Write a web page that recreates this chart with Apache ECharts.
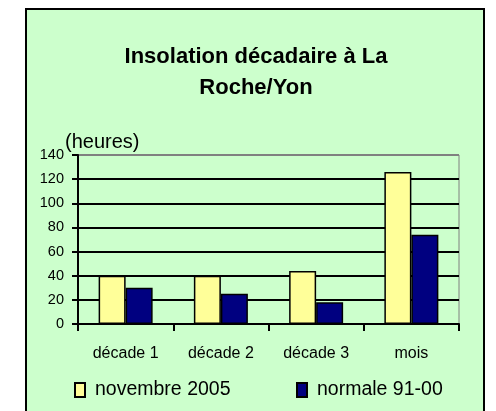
<!DOCTYPE html>
<html><head><meta charset="utf-8">
<script src="https://cdn.jsdelivr.net/npm/echarts@6/dist/echarts.min.js"></script>
<style>html,body{margin:0;padding:0;background:#fff}#c{width:496px;height:411px}</style>
</head><body><div id="c"></div>
<script>
const titleLines = ['Insolation décadaire à La', 'Roche/Yon'];
const unitLabel = '(heures)';
const categories = ['décade 1', 'décade 2', 'décade 3', 'mois'];
const seriesNames = ['novembre 2005', 'normale 91-00'];
const nov2005 = [40, 40, 44, 126];
const normale = [30, 25, 18, 74];
const yMin = 0, yMax = 140, yStep = 20;

const FONT = '"Liberation Sans", Arial, sans-serif';
const chart = echarts.init(document.getElementById('c'), null, {renderer: 'canvas'});
const splitColors = [];
for (let v = yMin; v <= yMax; v += yStep) splitColors.push(v === yMax ? '#808080' : '#000000');

chart.setOption({
  backgroundColor: '#ffffff',
  animation: false,
  graphic: [
    {type: 'rect', z: -100, silent: true,
     shape: {x: 26, y: 9, width: 458, height: 420},
     style: {fill: '#CCFFCC', stroke: '#000000', lineWidth: 2}},
    {type: 'text', z: 10, x: 256, y: 57, silent: true,
     style: {text: titleLines[0], font: 'bold 22px ' + FONT, fill: '#000', textAlign: 'center', textVerticalAlign: 'middle'}},
    {type: 'text', z: 10, x: 256, y: 88, silent: true,
     style: {text: titleLines[1], font: 'bold 22px ' + FONT, fill: '#000', textAlign: 'center', textVerticalAlign: 'middle'}},
    {type: 'text', z: 10, x: 65, y: 142, silent: true,
     style: {text: unitLabel, font: '20px ' + FONT, fill: '#000', textAlign: 'left', textVerticalAlign: 'middle'}}
  ],
  legend: [
    {data: [seriesNames[0]], left: 69, top: 375, itemWidth: 10, itemHeight: 14, icon: 'rect',
     textStyle: {fontFamily: FONT, fontSize: 19.5, color: '#000', padding: [0, 0, 0, 5]}},
    {data: [seriesNames[1]], left: 291, top: 375, itemWidth: 10, itemHeight: 14, icon: 'rect',
     textStyle: {fontFamily: FONT, fontSize: 19.5, color: '#000', padding: [0, 0, 0, 5]}}
  ],
  grid: {left: 78, right: 37, top: 155, bottom: 87, show: true, borderColor: '#808080', borderWidth: 1, backgroundColor: 'transparent'},
  xAxis: {
    type: 'category', data: categories,
    axisLine: {lineStyle: {color: '#000', width: 2}},
    axisTick: {show: true, length: 7, alignWithLabel: false, lineStyle: {color: '#000', width: 2}},
    axisLabel: {fontFamily: FONT, fontSize: 16, color: '#000', margin: 22}
  },
  yAxis: {
    type: 'value', min: yMin, max: yMax, interval: yStep,
    axisLine: {show: true, lineStyle: {color: '#000', width: 2}},
    axisTick: {show: true, length: 6, lineStyle: {color: '#000', width: 2}},
    axisLabel: {fontFamily: FONT, fontSize: 14.5, color: '#000', margin: 14},
    splitLine: {show: true, lineStyle: {color: splitColors, width: 2}}
  },
  series: [
    {name: seriesNames[0], type: 'bar', data: nov2005, barWidth: 27, barGap: '0%',
     itemStyle: {color: '#FFFF99', borderColor: '#000', borderWidth: 1.5}},
    {name: seriesNames[1], type: 'bar', data: normale, barWidth: 27, barGap: '0%',
     itemStyle: {color: '#000080', borderColor: '#000', borderWidth: 1.5}}
  ]
});
</script></body></html>
